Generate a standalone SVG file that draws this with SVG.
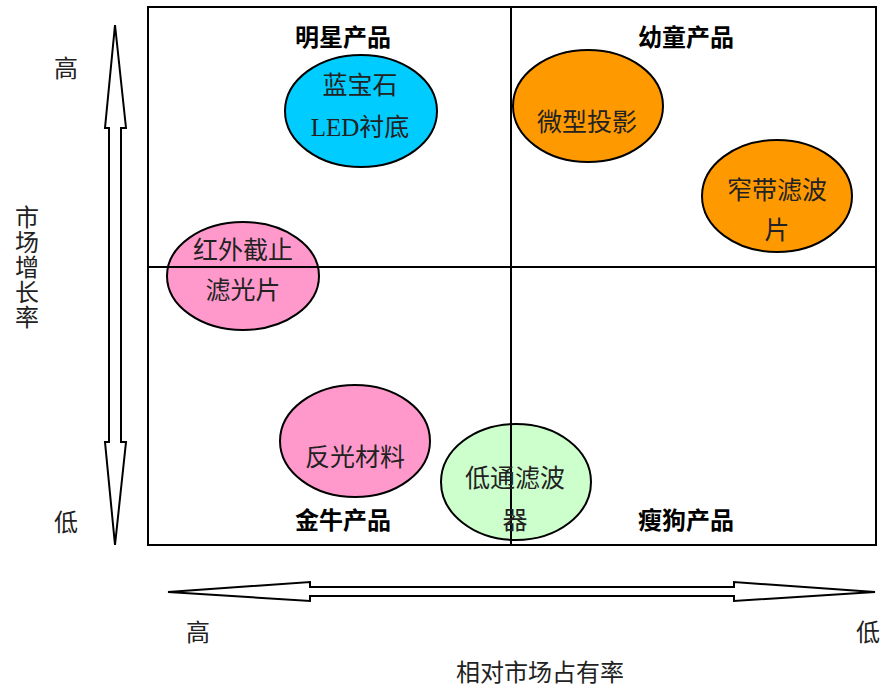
<svg xmlns="http://www.w3.org/2000/svg" width="888" height="687" viewBox="0 0 888 687">
<style>
.el{stroke:#000;stroke-width:2}
.t{font-family:"Liberation Serif","Noto Sans CJK SC",serif;font-size:25px;fill:#222;text-anchor:middle}
.q{font-family:"Noto Sans CJK SC","Liberation Sans",sans-serif;font-size:24px;font-weight:bold;fill:#000;text-anchor:middle}
.a{font-family:"Liberation Serif","Noto Sans CJK SC",serif;font-size:24px;fill:#222;text-anchor:middle}
.ln{stroke:#000;stroke-width:2;fill:none}
</style>
<rect width="888" height="687" fill="#fff"/>
<g id="node-sapphire"><ellipse class="el" cx="361" cy="111" rx="76" ry="56" fill="#00CCFF"/></g>
<g id="node-ircut"><ellipse class="el" cx="243" cy="276" rx="76" ry="54" fill="#FF99CC"/></g>
<g id="node-microproj"><ellipse class="el" cx="588" cy="106" rx="75" ry="56" fill="#FF9900"/></g>
<g id="node-narrowband"><ellipse class="el" cx="777" cy="196" rx="75" ry="56" fill="#FF9900"/></g>
<g id="node-reflective"><ellipse class="el" cx="355" cy="441" rx="75" ry="56" fill="#FF99CC"/></g>
<g id="node-lowpass"><ellipse class="el" cx="516" cy="482" rx="75" ry="58" fill="#CCFFCC"/></g>
<g id="connectors">
<rect class="ln" x="148" y="7" width="728" height="538"/>
<line class="ln" x1="511" y1="7" x2="511" y2="545"/>
<line class="ln" x1="148" y1="267" x2="876" y2="267"/>
<polygon class="ln" fill="#fff" points="115,25 126,128 121,128 121,442 126,442 115,545 105,442 109,442 109,128 105,128"/>
<polygon class="ln" fill="#fff" points="168,592 310,582 310,587 734,587 734,582 875,592 734,601 734,596 310,596 310,601"/>
</g>
<g id="labels">
<text class="t" x="360" y="94">蓝宝石</text>
<text class="t" x="360" y="136">LED衬底</text>
<text class="t" x="243" y="259">红外截止</text>
<text class="t" x="243" y="299">滤光片</text>
<text class="t" x="587" y="131">微型投影</text>
<text class="t" x="777" y="199">窄带滤波</text>
<text class="t" x="777" y="239">片</text>
<text class="t" x="355" y="466">反光材料</text>
<text class="t" x="515" y="487">低通滤波</text>
<text class="t" x="515" y="529">器</text>
<text class="q" x="343" y="46">明星产品</text>
<text class="q" x="686" y="46">幼童产品</text>
<text class="q" x="343" y="529">金牛产品</text>
<text class="q" x="686" y="529">瘦狗产品</text>
<text class="a" x="66" y="77">高</text>
<text class="a" x="66" y="531">低</text>
<text class="a" x="27" y="226">市</text>
<text class="a" x="27" y="251">场</text>
<text class="a" x="27" y="276">增</text>
<text class="a" x="27" y="301">长</text>
<text class="a" x="27" y="326">率</text>
<text class="a" x="198" y="641">高</text>
<text class="a" x="868" y="641">低</text>
<text class="a" x="540" y="681">相对市场占有率</text>
</g>
</svg>
